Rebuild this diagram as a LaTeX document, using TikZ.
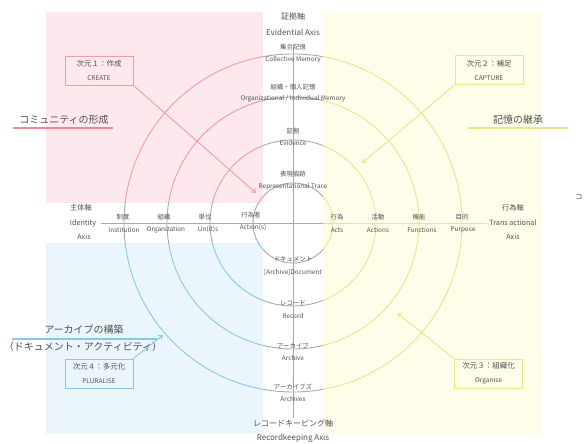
\documentclass[tikz,border=0pt]{standalone}
\usepackage{fontspec}
\setmainfont{Noto Sans CJK JP}
\usetikzlibrary{arrows.meta}
\definecolor{pinkbg}{HTML}{FDE9ED}
\definecolor{bluebg}{HTML}{EBF6FC}
\definecolor{yelbg}{HTML}{FEFDEA}
\definecolor{pinkln}{HTML}{F29BA6}
\definecolor{blueln}{HTML}{86C8EA}
\definecolor{yelln}{HTML}{EEE28C}
\definecolor{grayln}{HTML}{A9A9A9}
\definecolor{txt}{HTML}{505050}
\newcommand\myrings[1]{%
  \draw[#1, line width=0.9pt] (c) circle[radius=40pt] (c) circle[radius=83pt]
    (c) circle[radius=126pt] (c) circle[radius=169pt];
  \draw[#1, line width=0.9pt] (axL) -- (axR);
  \draw[#1, line width=0.9pt] (axT) -- (axB);
}
\begin{document}
\begin{tikzpicture}[x=1pt,y=-1pt,
  sm/.style={font=\fontsize{6.4}{7}\selectfont, text=txt, inner sep=0pt},
  hd/.style={font=\fontsize{8}{9}\selectfont, text=txt, inner sep=0pt},
  sd/.style={font=\fontsize{7.2}{8}\selectfont, text=txt, inner sep=0pt},
  big/.style={font=\fontsize{10}{11}\selectfont, text=txt, inner sep=0pt},
  dimbox/.style={draw, line width=0.9pt, minimum width=68pt, minimum height=29pt,
     align=center, text=txt, inner sep=0pt,
     font=\fontsize{7.5}{14}\selectfont},
  arr/.style={line width=0.9pt, -{Straight Barb[length=3.5pt,width=5pt]}}]
\useasboundingbox (0,0) rectangle (584,444);
\fill[pinkbg] (46,12) rectangle (263,203);
\fill[bluebg] (46,243) rectangle (263,434);
\fill[yelbg] (323,12) rectangle (542,434);
\coordinate (c) at (293,223);
\coordinate (axL) at (101,223);
\coordinate (axR) at (487,223);
\coordinate (axT) at (293,45);
\coordinate (axB) at (293,418);
% rings coloured by region
\begin{scope}\clip (46,12) rectangle (263,203); \myrings{pinkln} \end{scope}
\begin{scope}\clip (46,243) rectangle (263,434); \myrings{blueln} \end{scope}
\begin{scope}\clip (323,0) rectangle (584,444); \myrings{yelln} \end{scope}
\begin{scope}\clip (263,0) rectangle (323,444); \myrings{grayln} \end{scope}
\begin{scope}\clip (0,203) rectangle (263,243); \myrings{grayln} \end{scope}
% vertical axis labels
\node[hd] (evj) at (293,16) {証拠軸};
\node[hd] (eve) at (293,32) {Evidential Axis};
\node[sm] (cmj) at (293,47) {集合記憶};
\node[sm] (cme) at (293,60) {Collective Memory};
\node[sm] (omj) at (293,87) {組織・個人記憶};
\node[sm] (ome) at (293,99) {Organizational / Individual Memory};
\node[sm] (evdj) at (293,131) {証拠};
\node[sm] (evde) at (293,143) {Evidence};
\node[sm] (rtj) at (293,174) {表現痕跡};
\node[sm] (rte) at (293,187) {Representational Trace};
\node[sm] (docj) at (293,259) {ドキュメント};
\node[sm] (doce) at (293,272) {[Archive]Document};
\node[sm] (recj) at (293,303) {レコード};
\node[sm] (rece) at (293,316) {Record};
\node[sm] (arcj) at (293,346) {アーカイブ};
\node[sm] (arce) at (293,358) {Archive};
\node[sm] (arsj) at (293,387) {アーカイブズ};
\node[sm] (arse) at (293,399) {Archives};
\node[hd] (rkj) at (293,423) {レコードキーピング軸};
\node[hd] (rke) at (293,438) {Recordkeeping Axis};
% horizontal axis labels, left
\node[sd] (idj) at (81,208) {主体軸};
\node[sd] (ide) at (83,223) {Identity};
\node[sd] (ida) at (84,237) {Axis};
\node[sm] (insj) at (123,217) {制度};
\node[sm] (inse) at (124,230) {Institution};
\node[sm] (orgj) at (164,217) {組織};
\node[sm] (orge) at (166,230) {Organization};
\node[sm] (unj) at (205,217) {単位};
\node[sm] (une) at (208,230) {Un(it)s};
\node[sm] (acrj) at (251,215) {行為者};
\node[sm] (acre) at (253,228) {Action(s)};
% horizontal axis labels, right
\node[sm] (actj) at (337,217) {行為};
\node[sm] (acte) at (337,230) {Acts};
\node[sm] (acnj) at (378,217) {活動};
\node[sm] (acne) at (378,230) {Actions};
\node[sm] (fnj) at (419,217) {機能};
\node[sm] (fne) at (422,230) {Functions};
\node[sm] (puj) at (462,217) {目的};
\node[sm] (pue) at (463,230) {Purpose};
\node[sd] (taj) at (513,208) {行為軸};
\node[sd] (tae) at (513,223) {Trans actional};
\node[sd] (taa) at (513,237) {Axis};
\node[sd] (stray) at (579,197) {コ};
% section labels
\node[big] (comm) at (64,120) {コミュニティの形成};
\coordinate (commL) at (13,128); \coordinate (commR) at (113,128);
\draw[pinkln!85!red, line width=1.6pt] (commL) -- (commR);
\node[big] (mem) at (518,120) {記憶の継承};
\coordinate (memL) at (468,128); \coordinate (memR) at (568,128);
\draw[yelln, line width=2pt] (memL) -- (memR);
\node[big] (arch) at (84,330) {アーカイブの構築};
\coordinate (archL) at (12,339); \coordinate (archR) at (157,339);
\draw[blueln, line width=1.6pt] (archL) -- (archR);
\node[big] (docact) at (83,347) {（ドキュメント・アクティビティ）};
% dimension boxes
\node[dimbox, draw=pinkln] (create) at (99,70.5) {次元１：作成\\{\fontsize{6.5}{8}\selectfont CREATE}};
\node[dimbox, draw=yelln] (capture) at (489,70) {次元２：補足\\{\fontsize{6.5}{8}\selectfont CAPTURE}};
\node[dimbox, draw=yelln] (organise) at (488.5,373.5) {次元３：組織化\\{\fontsize{6.5}{8}\selectfont Organise}};
\node[dimbox, draw=blueln] (pluralise) at (99,373.5) {次元４：多元化\\{\fontsize{6.5}{8}\selectfont PLURALISE}};
\coordinate (createEnd) at (256,193);
\coordinate (captureEnd) at (362,163);
\coordinate (organiseEnd) at (397,313);
\coordinate (pluraliseEnd) at (163,335);
\draw[arr, pinkln] (create.south east) -- (createEnd);
\draw[arr, yelln] (capture.south west) -- (captureEnd);
\draw[arr, yelln] (organise.north west) -- (organiseEnd);
\draw[arr, blueln] (pluralise.north east) -- (pluraliseEnd);
\end{tikzpicture}
\end{document}
